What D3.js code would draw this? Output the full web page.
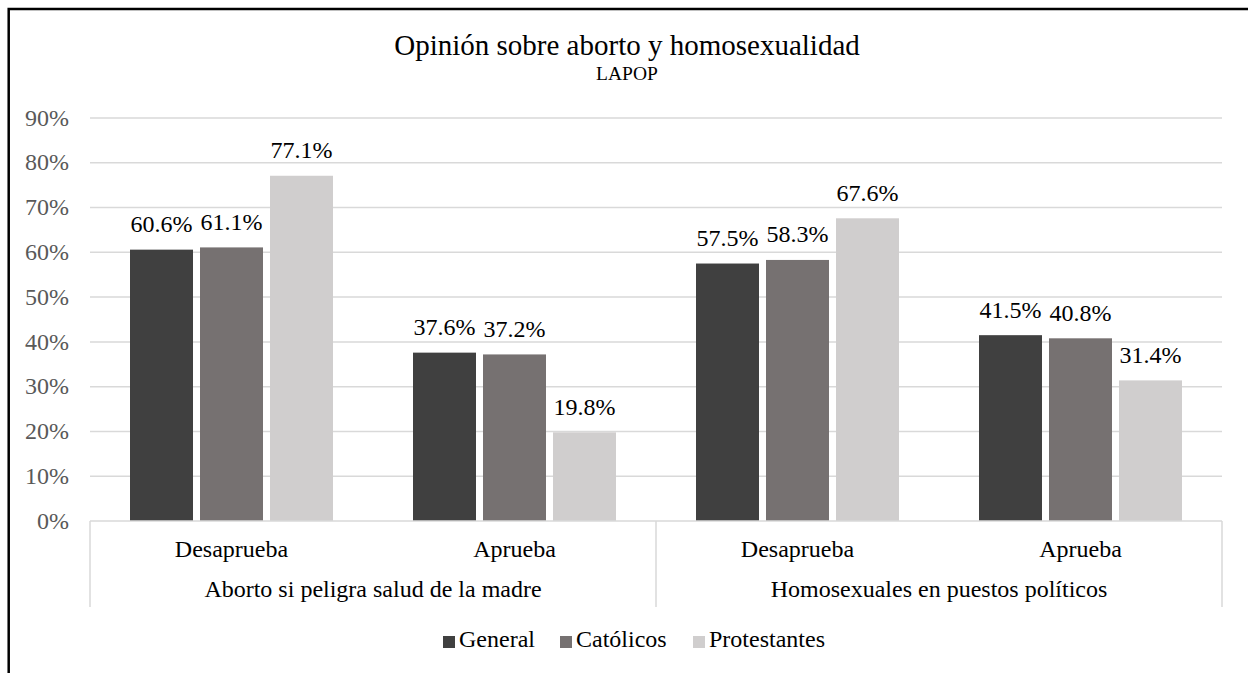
<!DOCTYPE html>
<html>
<head>
<meta charset="utf-8">
<script src="https://cdn.jsdelivr.net/npm/d3@7"></script>
<style>
    body { margin: 0; background: #fff; }
</style>
</head>
<body>
<div id="chart"></div>
<script>
    var groups = ["Aborto si peligra salud de la madre", "Homosexuales en puestos políticos"];
    var answers = ["Desaprueba", "Aprueba"];
    var series = ["General", "Católicos", "Protestantes"];
    var colors = ["#404040", "#767171", "#d0cece"];
    var yTicks = [0, 10, 20, 30, 40, 50, 60, 70, 80, 90];

    // one entry per (group, answer), in the order the categories appear
    var general = [60.6, 37.6, 57.5, 41.5];
    var catolicos = [61.1, 37.2, 58.3, 40.8];
    var protestantes = [77.1, 19.8, 67.6, 31.4];

    var FONT = "'Liberation Serif', 'Times New Roman', serif";
    var width = 1248;
    var height = 673;
    var plotLeft = 90, plotRight = 1222, plotTop = 118, plotBottom = 521;

    var rows = [];
    groups.forEach(function (g, gi) {
        answers.forEach(function (a, ai) {
            var i = gi * answers.length + ai;
            rows.push({
                key: g + "|" + a,
                group: g,
                answer: a,
                values: [general[i], catolicos[i], protestantes[i]]
            });
        });
    });

    var svg = d3.select("#chart").append("svg")
        .attr("width", width)
        .attr("height", height);

    // outer frame (runs off the right and bottom edges)
    svg.append("rect")
        .attr("x", 8.7).attr("y", 9)
        .attr("width", width + 20).attr("height", height + 20)
        .attr("fill", "none")
        .attr("stroke", "#000")
        .attr("stroke-width", 2.5);

    var x0 = d3.scaleBand()
        .domain(rows.map(function (r) { return r.key; }))
        .range([plotLeft, plotRight]);

    var x1 = d3.scaleBand()
        .domain(series)
        .range([40, x0.bandwidth() - 40])
        .paddingInner(0.1);

    var y = d3.scaleLinear()
        .domain([0, 90])
        .range([plotBottom, plotTop]);

    // gridlines
    svg.append("g").selectAll("line")
        .data(yTicks.slice(1))
        .enter()
        .append("line")
        .attr("x1", plotLeft).attr("x2", plotRight)
        .attr("y1", function (d) { return y(d); })
        .attr("y2", function (d) { return y(d); })
        .attr("stroke", "#d9d9d9")
        .attr("stroke-width", 1.5);

    // y axis labels
    var yAxis = svg.append("g")
        .attr("transform", "translate(" + (plotLeft - 21) + ",0)")
        .call(d3.axisLeft(y).tickValues(yTicks).tickSize(0).tickPadding(0)
            .tickFormat(function (d) { return d + "%"; }));
    yAxis.select(".domain").remove();
    yAxis.attr("font-family", null).attr("font-size", null);
    yAxis.selectAll("text")
        .attr("fill", "#595959")
        .style("font-family", FONT)
        .style("font-size", "24px")
        .attr("dy", "0.3em");

    // bars
    var rowG = svg.append("g").selectAll("g")
        .data(rows)
        .enter()
        .append("g")
        .attr("transform", function (d) { return "translate(" + x0(d.key) + ",0)"; });

    rowG.selectAll("rect")
        .data(function (d) { return d.values.map(function (v, i) { return { s: series[i], v: v, i: i }; }); })
        .enter()
        .append("rect")
        .attr("x", function (d) { return x1(d.s); })
        .attr("width", x1.bandwidth())
        .attr("y", function (d) { return y(d.v); })
        .attr("height", function (d) { return y(0) - y(d.v); })
        .attr("fill", function (d) { return colors[d.i]; });

    rowG.selectAll("text")
        .data(function (d) { return d.values.map(function (v, i) { return { s: series[i], v: v }; }); })
        .enter()
        .append("text")
        .attr("x", function (d) { return x1(d.s) + x1.bandwidth() / 2; })
        .attr("y", function (d) { return y(d.v) - 17.5; })
        .attr("text-anchor", "middle")
        .style("font-family", FONT)
        .style("font-size", "24px")
        .attr("fill", "#000")
        .text(function (d) { return d3.format(".1f")(d.v) + "%"; });

    // category axis box
    var axisCol = "#d9d9d9";
    var axisBottom = 607;
    svg.append("line")
        .attr("x1", plotLeft).attr("x2", plotRight)
        .attr("y1", plotBottom).attr("y2", plotBottom)
        .attr("stroke", axisCol).attr("stroke-width", 1.5);

    var groupEdges = [0, 2, 4].map(function (i) {
        return i < rows.length ? x0(rows[i].key) : plotRight;
    });
    svg.append("g").selectAll("line")
        .data(groupEdges)
        .enter()
        .append("line")
        .attr("x1", function (d) { return d; })
        .attr("x2", function (d) { return d; })
        .attr("y1", plotBottom).attr("y2", axisBottom)
        .attr("stroke", axisCol).attr("stroke-width", 1.5);

    svg.append("g").selectAll("text")
        .data(rows)
        .enter()
        .append("text")
        .attr("x", function (d) { return x0(d.key) + x0.bandwidth() / 2; })
        .attr("y", 557)
        .attr("text-anchor", "middle")
        .style("font-family", FONT)
        .style("font-size", "24px")
        .attr("fill", "#000")
        .text(function (d) { return d.answer; });

    svg.append("g").selectAll("text")
        .data(groups)
        .enter()
        .append("text")
        .attr("x", function (d, i) { return (groupEdges[i] + groupEdges[i + 1]) / 2; })
        .attr("y", 597)
        .attr("text-anchor", "middle")
        .style("font-family", FONT)
        .style("font-size", "24px")
        .attr("fill", "#000")
        .text(function (d) { return d; });

    // title
    svg.append("text")
        .attr("x", 627).attr("y", 55)
        .attr("text-anchor", "middle")
        .style("font-family", FONT)
        .style("font-size", "29px")
        .attr("fill", "#000")
        .text("Opinión sobre aborto y homosexualidad");
    svg.append("text")
        .attr("x", 627).attr("y", 80)
        .attr("text-anchor", "middle")
        .style("font-family", FONT)
        .style("font-size", "19.5px")
        .attr("fill", "#000")
        .text("LAPOP");

    // legend
    var legendX = [443, 560, 693];
    var legend = svg.append("g").selectAll("g")
        .data(series)
        .enter()
        .append("g")
        .attr("transform", function (d, i) { return "translate(" + legendX[i] + ",636)"; });
    legend.append("rect")
        .attr("width", 12).attr("height", 12)
        .attr("fill", function (d, i) { return colors[i]; });
    legend.append("text")
        .attr("x", 16).attr("y", 11)
        .style("font-family", FONT)
        .style("font-size", "24px")
        .attr("fill", "#000")
        .text(function (d) { return d; });
</script>
</body>
</html>
